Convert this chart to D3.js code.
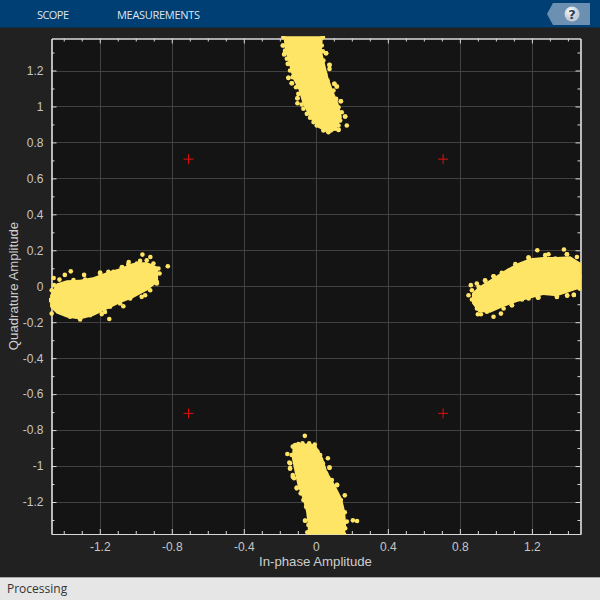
<!DOCTYPE html>
<html><head><meta charset="utf-8">
<script src="https://cdn.jsdelivr.net/npm/d3@7"></script>
<style>html,body{margin:0;padding:0;background:#212121}svg{display:block}</style>
</head><body><svg id="c" width="600" height="600"></svg>
<script>
// Axis data
const xDomain=[-1.468,1.47], yDomain=[-1.378,1.378];
const xMajor=[-1.2,-0.8,-0.4,0,0.4,0.8,1.2];
const yMajor=[-1.2,-1,-0.8,-0.6,-0.4,-0.2,0,0.2,0.4,0.6,0.8,1,1.2];
const xMinor=[-1.4,-1.3,-1.1,-1,-0.9,-0.7,-0.6,-0.5,-0.3,-0.2,-0.1,0.1,0.2,0.3,0.5,0.6,0.7,0.9,1,1.1,1.3,1.4];
const yMinor=[-1.3,-1.1,-0.9,-0.7,-0.5,-0.3,-0.1,0.1,0.3,0.5,0.7,0.9,1.1,1.3];
const idealI=[-0.707,0.707,-0.707,0.707], idealQ=[0.707,0.707,-0.707,-0.707];
// Dense cluster extents
const topQ=[1.39,1.31,1.24,1.16,1.09,1.02,0.94,0.885,0.855];
const topLo=[-0.18,-0.17,-0.15,-0.13,-0.095,-0.075,-0.035,0.008,0.06];
const topHi=[0.04,0.033,0.05,0.07,0.095,0.125,0.145,0.12,0.09];
const botQ=[-0.875,-0.883,-0.956,-1.03,-1.105,-1.18,-1.254,-1.328,-1.39];
const botLo=[-0.1,-0.128,-0.133,-0.118,-0.102,-0.074,-0.054,-0.045,-0.045];
const botHi=[-0.03,0,0.04,0.063,0.107,0.145,0.163,0.168,0.16];
const leftI=[-1.476,-1.44,-1.383,-1.31,-1.237,-1.161,-1.088,-1.015,-0.939,-0.876];
const leftLo=[-0.115,-0.152,-0.174,-0.185,-0.165,-0.13,-0.095,-0.065,-0.025,0.024];
const leftHi=[-0.05,0.015,0.033,0.036,0.05,0.078,0.1,0.13,0.135,0.107];
const rightI=[0.867,0.903,0.968,1.041,1.117,1.19,1.263,1.339,1.413,1.475];
const rightLo=[-0.094,-0.143,-0.148,-0.115,-0.087,-0.068,-0.048,-0.055,-0.03,-0.01];
const rightHi=[-0.039,-0.004,0.036,0.084,0.127,0.156,0.163,0.163,0.167,0.128];
// Individually visible symbols: isolated outliers
const outI=[0.172,0.126,0.163,0.139,0.117,0.103,0.076,0.057,-0.18,-0.174,-0.152,-0.133,-0.102,-0.102,-0.152,
 -0.061,-0.158,-0.074,-0.037,-0.006,0.067,0.076,0.118,0.161,0.206,0.229,-0.059,-0.143,-0.143,-0.128,-0.106,
 -0.963,-0.919,-0.822,-1.361,-1.287,-1.394,-1.456,-1.147,-1.467,-1.039,-0.994,-1.198,-1.076,-1.171,-1.069,-0.948,
 1.23,1.378,0.848,0.861,0.894,0.987,0.9,0.917,1.028,1.089,1.233,1.339,1.396,1.433,1.292,1.181,0.987,0.94,1.394];
const outQ=[0.894,0.87,0.944,1.029,1.111,1.126,1.232,1.296,1.339,1.293,1.159,1.129,1.046,1.018,1.237,
 -0.832,-0.933,-0.874,-0.874,-0.88,-0.957,-1.009,-1.106,-1.163,-1.302,-1.306,-1.304,-0.985,-1.013,-1.059,-1.124,
 0.176,0.163,0.111,0.083,0.063,0.063,0.046,-0.182,-0.152,0.135,0.126,0.076,0.107,-0.143,-0.111,-0.05,
 0.2,0.204,-0.05,0.006,0.015,-0.17,-0.156,-0.156,-0.152,-0.106,-0.063,-0.059,-0.052,-0.048,0.178,0.159,0.056,0.033,0.178];
// Symbols along the rough cluster edges
const topEdgeI=[-.18,-.184,-.171,-.176,-.161,-.156,-.143,-.152,-.128,-.134,-.11,-.097,-.102,-.078,-.069,-.05,-.032,-.013,.005,.042,.07,
 .039,.033,.057,.039,.042,.076,.076,.052,.065,.103,.116,.098,.113,.139,.126,.144,.163,.135,.126,.107,.126];
const topEdgeQ=[1.385,1.339,1.311,1.289,1.265,1.237,1.2,1.159,1.163,1.129,1.107,1.07,1.046,1.011,.987,.959,.937,.913,.894,.866,.857,
 1.385,1.339,1.296,1.307,1.255,1.231,1.209,1.181,1.144,1.126,1.111,1.089,1.042,1.029,.996,.968,.944,.922,.894,.876,.87];
const botEdgeI=[-.128,-.134,-.147,-.143,-.128,-.121,-.106,-.084,-.069,-.054,-.035,-.06,-.041,-.047,
 -.004,.024,.039,.076,.057,.089,.118,.107,.139,.161,.15,.172,.163,.157,-.115,-.097,-.022,.009];
const botEdgeQ=[-.892,-.939,-.981,-1.013,-1.05,-1.068,-1.12,-1.152,-1.189,-1.226,-1.257,-1.303,-1.328,-1.368,
 -.911,-.939,-.985,-1.009,-1.04,-1.078,-1.105,-1.142,-1.189,-1.257,-1.29,-1.309,-1.346,-1.379,-.883,-.878,-.892,-.92];
const leftEdgeI=[-1.467,-1.454,-1.424,-1.346,-1.281,-1.254,-1.198,-1.152,-1.124,-1.078,-1.041,-1.013,-.976,-.939,-.902,-.874,-.868,-.883,
 -1.476,-1.448,-1.411,-1.365,-1.309,-1.254,-1.189,-1.143,-1.087,-1.031,-.967,-.92,-.883];
const leftEdgeQ=[-.022,.006,.037,.034,.037,.034,.071,.08,.08,.104,.123,.104,.141,.145,.126,.099,.071,.024,
 -.077,-.124,-.142,-.17,-.185,-.161,-.155,-.114,-.096,-.068,-.059,-.022,.015];
const rightEdgeI=[.867,.904,.941,.987,1.033,1.071,1.108,1.145,1.182,1.219,1.274,1.33,1.395,1.45,1.472,
 .867,.895,.95,1.043,1.089,1.145,1.182,1.237,1.293,1.339,1.396,1.433,1.465];
const rightEdgeQ=[-.022,-.003,.03,.056,.075,.086,.123,.123,.16,.145,.173,.154,.178,.163,.052,
 -.074,-.124,-.142,-.124,-.105,-.074,-.068,-.063,-.031,-.059,-.051,-.048,-.013];

const W=600,H=600,L=51.5,R=580.5,T=38.5,B=534;
const x=d3.scaleLinear().domain(xDomain).range([L,R]);
const y=d3.scaleLinear().domain(yDomain).range([B,T]);
const svg=d3.select('#c');
const FONT='"Liberation Sans",Arial,sans-serif';
svg.append('rect').attr('width',W).attr('height',H).attr('fill','#212121');
// header
svg.append('rect').attr('width',W).attr('height',27.5).attr('fill','#003f73');
svg.append('text').attr('x',37).attr('y',19).attr('fill','#dfe6ee').attr('font-family','"Open Sans",sans-serif').attr('font-size',11).attr('textLength',32).text('SCOPE');
svg.append('text').attr('x',117).attr('y',19).attr('fill','#dfe6ee').attr('font-family','"Open Sans",sans-serif').attr('font-size',11).attr('textLength',83).text('MEASUREMENTS');
svg.append('path').attr('d','M553,3L590,3L590,25L553,25L547,14Z').attr('fill','#6b90b2');
const g0=svg.append('defs').append('radialGradient').attr('id','hb').attr('cx','40%').attr('cy','30%');
g0.append('stop').attr('offset','0%').attr('stop-color','#ffffff');
g0.append('stop').attr('offset','100%').attr('stop-color','#c4cdd6');
svg.append('circle').attr('cx',572).attr('cy',14).attr('r',7.5).attr('fill','url(#hb)');
svg.append('text').attr('x',572).attr('y',18.5).attr('text-anchor','middle').attr('font-family','"DejaVu Sans",sans-serif').attr('font-weight','bold').attr('font-size',13).attr('fill','#2c3e55').text('?');
// status bar
svg.append('rect').attr('y',577).attr('width',W).attr('height',23).attr('fill','#e6e6e6');
svg.append('rect').attr('y',577).attr('width',W).attr('height',1).attr('fill','#a8a8a8');
svg.append('text').attr('x',7).attr('y',593).attr('fill','#333').attr('font-family','"Open Sans",sans-serif').attr('font-size',12).text('Processing');
// plot bg
svg.append('rect').attr('x',L).attr('y',T).attr('width',R-L).attr('height',B-T).attr('fill','#141414');
// grid
const grid=svg.append('g').attr('stroke','#414141').attr('stroke-width',1);
grid.selectAll('.v').data(xMajor).join('line').attr('x1',d=>Math.round(x(d))+.5).attr('x2',d=>Math.round(x(d))+.5).attr('y1',T).attr('y2',B);
grid.selectAll('.h').data(yMajor).join('line').attr('y1',d=>Math.round(y(d))+.5).attr('y2',d=>Math.round(y(d))+.5).attr('x1',L).attr('x2',R);
// axes
const AC='#d9d9d9', TC='#c6c6c6';
function style(g,hideText){
  g.select('.domain').attr('stroke',AC).attr('stroke-width',1.2);
  g.selectAll('.tick line').attr('stroke',AC);
  g.selectAll('text').attr('fill',TC).attr('font-family',FONT).attr('font-size',12);
  if(hideText) g.selectAll('text').remove();
}
const fmt=d=>String(+d.toFixed(1));
function ax(maker,scale,tx,ty,major,minor,labels,pad){
  svg.append('g').attr('transform',`translate(${tx},${ty})`).call(maker(scale).tickValues(minor).tickSizeInner(-3).tickSizeOuter(0).tickFormat('')).call(g=>style(g,true));
  svg.append('g').attr('transform',`translate(${tx},${ty})`).call(maker(scale).tickValues(major).tickSizeInner(-5).tickSizeOuter(0).tickPadding(pad).tickFormat(labels?fmt:'')).call(g=>style(g,!labels));
}
ax(d3.axisBottom,x,0,B,xMajor,xMinor,true,8);
ax(d3.axisTop,x,0,T,xMajor,xMinor,false,0);
ax(d3.axisLeft,y,L,0,yMajor,yMinor,true,8);
ax(d3.axisRight,y,R,0,yMajor,yMinor,false,0);
// labels
svg.append('text').attr('x',315.5).attr('y',566).attr('text-anchor','middle').attr('fill','#cfcfcf').attr('font-family',FONT).attr('font-size',13.2).text('In-phase Amplitude');
svg.append('text').attr('transform','translate(18,286) rotate(-90)').attr('text-anchor','middle').attr('fill','#cfcfcf').attr('font-family',FONT).attr('font-size',13.2).text('Quadrature Amplitude');
// clusters
svg.append('clipPath').attr('id','clip').append('rect').attr('x',L-2.5).attr('y',T-2.5).attr('width',R-L+3.5).attr('height',B-T+3);
const marks=svg.append('g').attr('clip-path','url(#clip)');
const YEL='#ffe566';
const vert=d3.area().x0(d=>x(d[1])).x1(d=>x(d[2])).y(d=>y(d[0]));
const horz=d3.area().x(d=>x(d[0])).y0(d=>y(d[1])).y1(d=>y(d[2]));
marks.append('path').datum(d3.zip(topQ,topLo,topHi)).attr('d',vert).attr('fill',YEL);
marks.append('path').datum(d3.zip(botQ,botLo,botHi)).attr('d',vert).attr('fill',YEL);
marks.append('path').datum(d3.zip(leftI,leftLo,leftHi)).attr('d',horz).attr('fill',YEL);
marks.append('path').datum(d3.zip(rightI,rightLo,rightHi)).attr('d',horz).attr('fill',YEL);
const pts=[[outI,outQ],[topEdgeI,topEdgeQ],[botEdgeI,botEdgeQ],[leftEdgeI,leftEdgeQ],[rightEdgeI,rightEdgeQ]].flatMap(p=>d3.zip(p[0],p[1]));
marks.selectAll('circle.o').data(pts).join('circle').attr('class','o').attr('cx',d=>x(d[0])).attr('cy',d=>y(d[1])).attr('r',2.3).attr('fill',YEL);
// ideal constellation
const pl=svg.append('g').attr('stroke','#e01010').attr('stroke-width',1).attr('fill','none');
d3.zip(idealI,idealQ).forEach(d=>{
  pl.append('line').attr('x1',x(d[0])-5).attr('x2',x(d[0])+5).attr('y1',y(d[1])).attr('y2',y(d[1]));
  pl.append('line').attr('y1',y(d[1])-5).attr('y2',y(d[1])+5).attr('x1',x(d[0])).attr('x2',x(d[0]));
});
</script></body></html>
